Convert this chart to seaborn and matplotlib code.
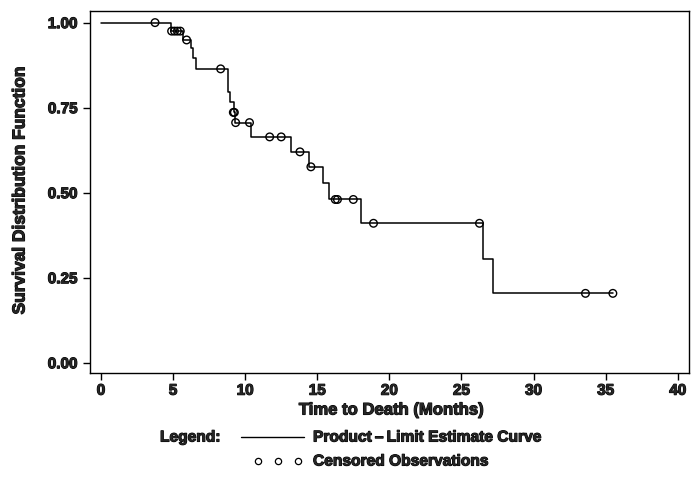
import matplotlib
matplotlib.use("Agg")
import matplotlib.pyplot as plt
import matplotlib.patheffects as pe
from matplotlib.lines import Line2D
import numpy as np
import pandas as pd
import seaborn as sns

# Product-limit (Kaplan-Meier) estimate: step times and survival after each step
step_time = [0.0, 4.83, 5.71, 6.22, 6.40, 6.59, 8.78, 8.95, 9.25, 9.33,
             10.40, 13.20, 14.40, 15.40, 15.80, 18.05, 26.50, 27.20, 35.50]
step_surv = [1.000, 0.975, 0.949, 0.925, 0.896, 0.864, 0.796, 0.766, 0.736, 0.706,
             0.664, 0.620, 0.576, 0.527, 0.480, 0.410, 0.305, 0.204, 0.204]

# Censored observations (time, survival estimate at that time)
cens_time = [3.75, 4.90, 5.10, 5.30, 5.50, 5.94, 8.30, 9.18, 9.25, 9.34, 10.30,
             11.70, 12.50, 13.80, 14.56, 16.25, 16.40, 17.50, 18.90, 26.25, 33.60, 35.50]
cens_surv = [1.000, 0.975, 0.975, 0.975, 0.975, 0.949, 0.864, 0.736, 0.736, 0.706, 0.706,
             0.664, 0.664, 0.620, 0.576, 0.480, 0.480, 0.480, 0.410, 0.410, 0.204, 0.204]

x_ticks = [0, 5, 10, 15, 20, 25, 30, 35, 40]
y_ticks = [0.00, 0.25, 0.50, 0.75, 1.00]

sns.set_theme(style="white")
plt.rcParams["font.family"] = ["Liberation Sans", "DejaVu Sans"]
plt.rcParams["font.weight"] = "bold"

W, H = 696, 496
fig = plt.figure(figsize=(W / 100, H / 100), dpi=100)
ax = fig.add_axes([90 / W, 1 - 373.3 / H, (689 - 90) / W, (373.3 - 10.7) / H])

curve = pd.DataFrame({"time": step_time, "surv": step_surv})
cens = pd.DataFrame({"time": cens_time, "surv": cens_surv})

sns.lineplot(data=curve, x="time", y="surv", drawstyle="steps-post",
             color="black", linewidth=1.1, ax=ax, estimator=None, sort=False)
sns.scatterplot(data=cens, x="time", y="surv", marker="o", s=30,
                facecolor="none", edgecolor="black", linewidth=1.0, ax=ax, zorder=3)

ax.set_xlim(-0.76, 40.78)
ax.set_ylim(-0.031, 1.035)
ax.set_xticks(x_ticks)
ax.set_yticks(y_ticks)

bold = [pe.withStroke(linewidth=0.8, foreground="black")]
ax.set_xticklabels([str(t) for t in x_ticks], fontsize=11, fontweight="bold", path_effects=bold)
ax.set_yticklabels([f"{t:.2f}" for t in y_ticks], fontsize=11, fontweight="bold", path_effects=bold)
ax.tick_params(axis="both", direction="out", length=5, width=1, color="black",
               bottom=True, left=True)
ax.tick_params(axis="x", pad=2.5)
ax.tick_params(axis="y", pad=4)
for s in ax.spines.values():
    s.set_color("black")
    s.set_linewidth(1.0)

ax.set_xlabel("")
ax.set_ylabel("")
fig.text(391 / W, 1 - 410 / H, "Time to Death (Months)", ha="center", va="center",
         fontsize=12, fontweight="bold", path_effects=bold)
fig.text(20 / W, 1 - 190 / H, "Survival Distribution Function", ha="center", va="center",
         rotation=90, fontsize=12.5, fontweight="bold", path_effects=bold)

# Legend block below the axis label
fig.text(160 / W, 1 - 437 / H, "Legend:", ha="left", va="center",
         fontsize=11.2, fontweight="bold", path_effects=bold)
fig.add_artist(Line2D([241 / W, 304 / W], [1 - 437 / H, 1 - 437 / H],
                      color="black", linewidth=1.0, transform=fig.transFigure))
fig.text(313 / W, 1 - 437 / H, "Product\u2009\u2013\u2009Limit Estimate Curve", ha="left", va="center",
         fontsize=11.2, fontweight="bold", path_effects=bold)
for cx in (258, 278, 298):
    fig.add_artist(Line2D([cx / W], [1 - 461 / H], marker="o", markersize=4.5,
                          markerfacecolor="none", markeredgecolor="black",
                          markeredgewidth=0.9, linestyle="none", transform=fig.transFigure))
fig.text(313 / W, 1 - 461 / H, "Censored Observations", ha="left", va="center",
         fontsize=11.2, fontweight="bold", path_effects=bold)

fig.savefig("out.png", dpi=100, facecolor="white")
